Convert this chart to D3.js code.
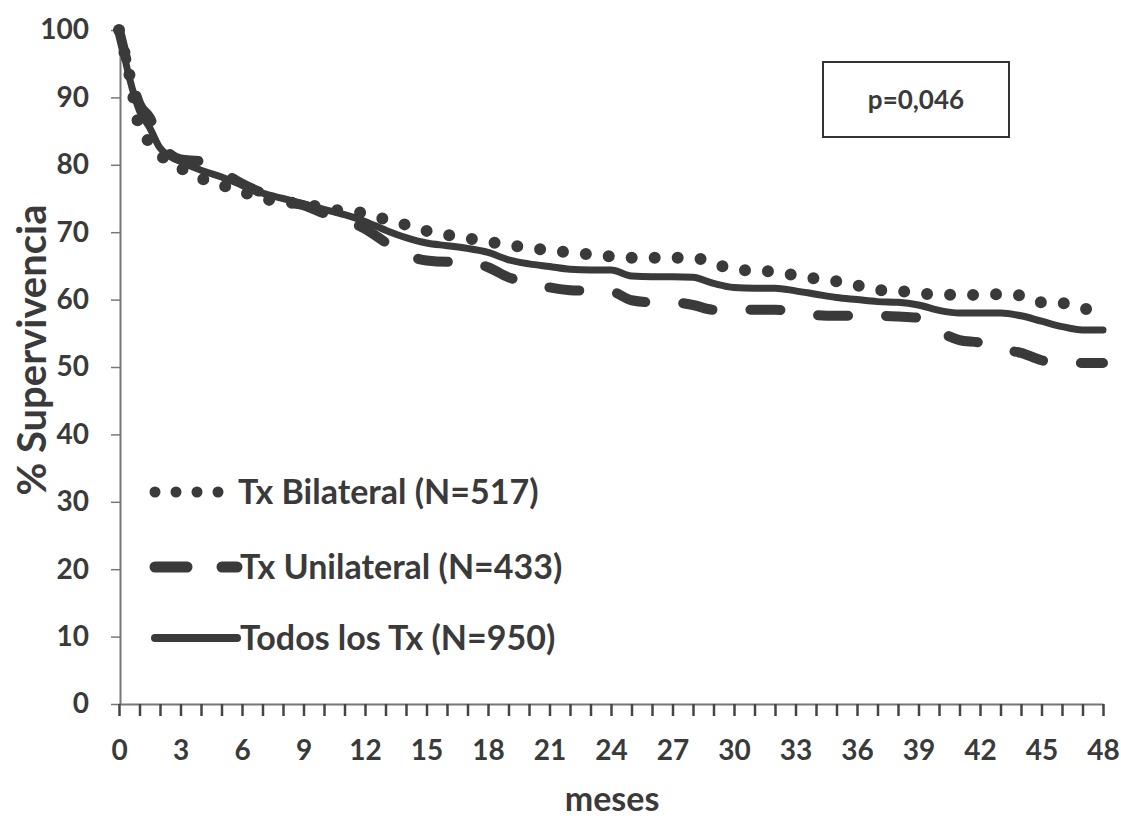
<!DOCTYPE html>
<html>
<head>
<meta charset="utf-8">
<script src="https://cdn.jsdelivr.net/npm/d3@7"></script>
<style>
  body { margin: 0; background: #fff; }
  svg text { font-family: Lato, "Open Sans", sans-serif; font-weight: 700; fill: #3a3a3a; }
</style>
</head>
<body>
<div id="vis"></div>
<script>
// months on the x axis (first two months read at half-month steps)
const months = [0, 0.5, 1, 1.5, 2, 3, 4, 5, 6, 7, 8, 9, 10, 11, 12, 13, 14, 15, 16, 17, 18, 19, 20, 21, 22, 23, 24,
  25, 26, 27, 28, 29, 30, 31, 32, 33, 34, 35, 36, 37, 38, 39, 40, 41, 42, 43, 44, 45, 46, 47, 48];

// % survival
const bilateral = [100, 93.5, 85.5, 83.3, 81.5, 79.5, 78, 77, 76, 75, 74.5, 74.2, 73.6, 73.1, 72.8,
  71.9, 71.1, 70.2, 69.6, 69.1, 68.6, 68.1, 67.7, 67.3, 67.0,
  66.7, 66.4, 66.2, 66.2, 66.2, 66.2, 65.4, 64.5, 64.3, 64.1,
  63.6, 63.1, 62.7, 62.1, 61.4, 61.3, 60.9, 60.8, 60.7, 60.7,
  60.8, 60.6, 59.6, 59.5, 58.7, 58.3];
const unilateral = [100, 94, 89, 87, 83.5, 80.8, 80.5, 79, 77.2, 75.8, 74.6, 74.0, 72.8, 71.8, 70.5,
  68.5, 66.7, 65.8, 65.6, 65.6, 64.8, 63.3, 62.6, 61.8, 61.4,
  61.3, 61.2, 59.9, 59.6, 59.6, 59.2, 58.5, 58.5, 58.5, 58.5,
  58.2, 57.7, 57.6, 57.6, 57.6, 57.5, 57.3, 55.3, 54.0, 53.6,
  52.6, 52.1, 51.0, 50.6, 50.6, 50.6];
const todos = [100, 93, 88, 85.5, 82.5, 80.5, 79.2, 78.2, 77, 75.8, 75, 74.2, 73.4, 72.6, 71.6,
  70.3, 69.2, 68.4, 68.0, 67.6, 67.0, 65.9, 65.3, 64.9, 64.5,
  64.4, 64.4, 63.5, 63.4, 63.4, 63.3, 62.4, 61.8, 61.7, 61.7,
  61.3, 60.8, 60.3, 60.0, 59.7, 59.6, 59.2, 58.4, 58.0, 58.0,
  58.0, 57.6, 56.8, 56.0, 55.5, 55.5];

const seriesNames = ["Tx Bilateral (N=517)", "Tx Unilateral (N=433)", "Todos los Tx (N=950)"];
const yTicks = [0, 10, 20, 30, 40, 50, 60, 70, 80, 90, 100];
const xTicks = [0, 1, 2, 3, 4, 5, 6, 7, 8, 9, 10, 11, 12, 13, 14, 15, 16, 17, 18, 19, 20, 21, 22, 23, 24,
  25, 26, 27, 28, 29, 30, 31, 32, 33, 34, 35, 36, 37, 38, 39, 40, 41, 42, 43, 44, 45, 46, 47, 48];
const pValue = "p=0,046";

const width = 1121;
const height = 821;
const ink = "#3a3a3a";

const svg = d3.select("#vis").append("svg")
  .attr("width", width)
  .attr("height", height);

const x = d3.scaleLinear().domain([0, 48]).range([119, 1103]);
const y = d3.scaleLinear().domain([0, 100]).range([704, 30]);

// styles for each series: dotted, dashed, solid
const styles = [
  { width: 12, dash: "0 23", cap: "round" },
  { width: 10, dash: "30 38", cap: "round" },
  { width: 7, dash: null, cap: "round" }
];
const series = [bilateral, unilateral, todos];

// axes
const yAxis = d3.axisLeft(y).tickValues(yTicks).tickSize(9).tickSizeOuter(0).tickPadding(22);
const gy = svg.append("g").attr("transform", "translate(120,0)").call(yAxis);
gy.select(".domain").attr("stroke", "#777").attr("stroke-width", 2);
gy.selectAll(".tick line").attr("stroke", "#777").attr("stroke-width", 1.5);
gy.selectAll(".tick text").style("font-size", "28px").attr("fill", ink);

const xAxis = d3.axisBottom(x).tickValues(xTicks).tickSize(12).tickSizeOuter(0).tickPadding(24)
  .tickFormat(d => d % 3 === 0 ? d : "");
const gx = svg.append("g").attr("transform", "translate(0,704)").call(xAxis);
gx.select(".domain").attr("stroke", "#777").attr("stroke-width", 2);
gx.selectAll(".tick line").attr("stroke", "#444").attr("stroke-width", 2.5);
gx.selectAll(".tick text").style("font-size", "28px").attr("fill", ink);

// axis titles
svg.append("text")
  .attr("transform", "translate(46,350) rotate(-90)")
  .attr("text-anchor", "middle")
  .style("font-size", "40px")
  .text("% Supervivencia");

svg.append("text")
  .attr("x", 612)
  .attr("y", 811)
  .attr("text-anchor", "middle")
  .style("font-size", "34px")
  .text("meses");

// curves
const line = d3.line()
  .x(d => x(d[0]))
  .y(d => y(d[1]))
  .curve(d3.curveMonotoneX);

series.forEach((s, i) => {
  const pts = months.map((m, j) => [m, s[j]]);
  svg.append("path")
    .datum(pts)
    .attr("d", line)
    .attr("fill", "none")
    .attr("stroke", ink)
    .attr("stroke-width", styles[i].width)
    .attr("stroke-linecap", styles[i].cap)
    .attr("stroke-linejoin", "round")
    .attr("stroke-dasharray", styles[i].dash);
});

// legend
const legendY = [492, 567, 638];
const legend = svg.append("g");
seriesNames.forEach((name, i) => {
  const st = styles[i];
  legend.append("line")
    .attr("x1", 155).attr("x2", i === 0 ? 222 : 237)
    .attr("y1", legendY[i]).attr("y2", legendY[i])
    .attr("stroke", ink)
    .attr("stroke-width", i === 0 ? 11 : st.width + 1)
    .attr("stroke-linecap", "round")
    .attr("stroke-dasharray", i === 0 ? "0 21" : (i === 1 ? "32 35" : null));
  legend.append("text")
    .attr("x", i === 0 ? 238 : 240)
    .attr("y", legendY[i])
    .attr("dy", "0.36em")
    .style("font-size", "34px")
    .text(name);
});

// p value box
svg.append("rect")
  .attr("x", 823).attr("y", 62)
  .attr("width", 186).attr("height", 75)
  .attr("fill", "#fff")
  .attr("stroke", "#333")
  .attr("stroke-width", 2);
svg.append("text")
  .attr("x", 916).attr("y", 100)
  .attr("dy", "0.35em")
  .attr("text-anchor", "middle")
  .style("font-size", "26px")
  .text(pValue);
</script>
</body>
</html>
